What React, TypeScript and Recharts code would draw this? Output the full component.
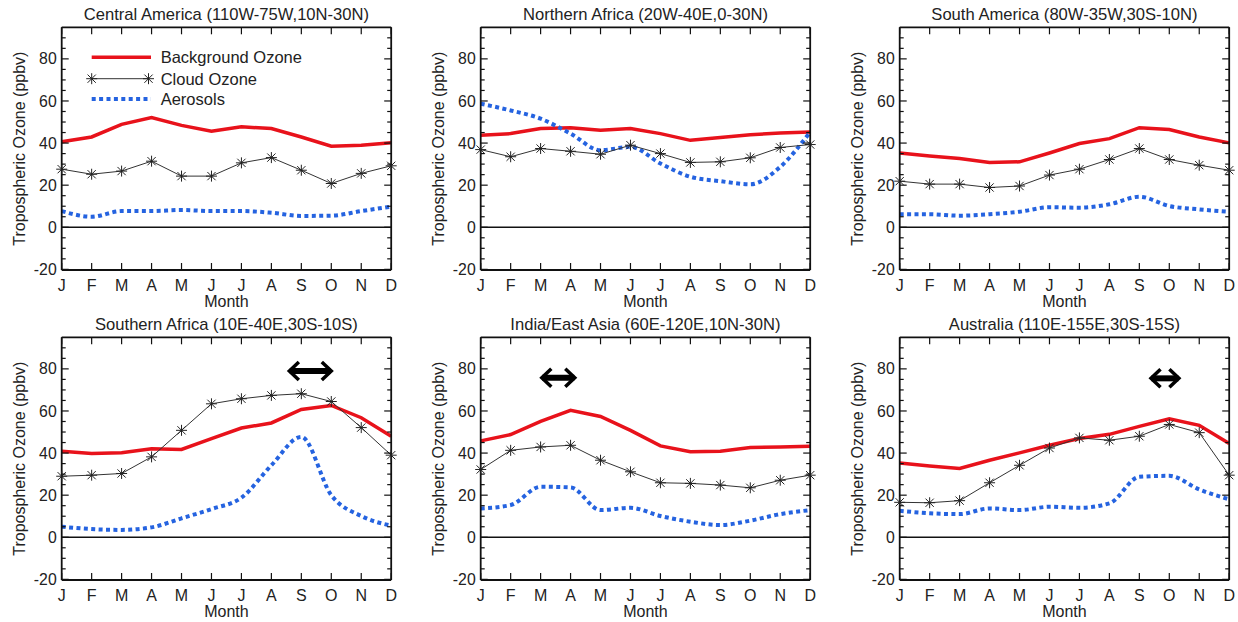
import { LineChart, Line, XAxis, YAxis, ReferenceLine, Legend } from "recharts";

const MONTHS = ["J", "F", "M", "A", "M", "J", "J", "A", "S", "O", "N", "D"];
const MONTH_IDX = [0, 1, 2, 3, 4, 5, 6, 7, 8, 9, 10, 11];
const Y_TICKS = [-20, -15, -10, -5, 0, 5, 10, 15, 20, 25, 30, 35, 40, 45, 50, 55, 60, 65, 70, 75, 80, 85, 90];

// Central America
const caBackground = [40.6, 42.9, 48.9, 52.1, 48.4, 45.6, 47.7, 46.9, 42.9, 38.5, 39.0, 40.2];
const caCloud = [27.6, 25.2, 26.7, 31.4, 24.3, 24.3, 30.6, 33.1, 27.1, 20.8, 25.6, 29.2];
const caAerosol = [7.7, 5.0, 7.7, 7.7, 8.2, 7.7, 7.7, 6.9, 5.4, 5.5, 7.7, 9.8];

// Northern Africa
const naBackground = [43.7, 44.5, 46.9, 47.3, 46.1, 46.9, 44.5, 41.3, 42.6, 44.0, 44.8, 45.3];
const naCloud = [36.9, 33.5, 37.4, 36.1, 34.7, 39.0, 35.0, 30.8, 31.1, 33.0, 37.9, 39.3];
const naAerosol = [58.7, 55.5, 51.6, 44.5, 36.6, 38.2, 30.3, 24.0, 21.9, 20.4, 28.7, 45.3];

// South America
const saBackground = [35.3, 33.9, 32.7, 30.8, 31.1, 35.3, 39.8, 42.1, 47.3, 46.4, 42.9, 40.1];
const saCloud = [21.9, 20.5, 20.5, 18.9, 19.6, 24.8, 27.6, 32.2, 37.4, 32.2, 29.5, 27.1];
const saAerosol = [6.2, 6.2, 5.5, 6.2, 7.4, 9.5, 9.3, 10.9, 14.5, 10.1, 8.5, 7.4];

// Southern Africa
const sfBackground = [40.9, 39.8, 40.2, 42.1, 41.7, 46.9, 51.9, 54.3, 60.7, 62.6, 56.8, 48.0];
const sfCloud = [29.0, 29.5, 30.3, 38.2, 50.8, 63.4, 65.8, 67.4, 68.2, 64.5, 52.1, 39.0];
const sfAerosol = [5.0, 3.9, 3.5, 4.7, 9.0, 13.4, 18.8, 34.2, 47.7, 20.0, 10.1, 5.5];

// India/East Asia
const ieBackground = [45.8, 48.8, 55.1, 60.3, 57.4, 50.8, 43.4, 40.6, 40.9, 42.6, 42.9, 43.2];
const ieCloud = [32.2, 41.3, 42.9, 43.7, 36.6, 31.1, 25.9, 25.6, 24.8, 23.5, 27.1, 29.5];
const ieAerosol = [13.7, 15.3, 24.0, 23.7, 12.9, 14.0, 10.1, 7.4, 5.8, 7.9, 11.0, 12.9];

// Australia
const auBackground = [35.3, 33.9, 32.7, 36.6, 40.1, 43.7, 46.9, 48.9, 52.7, 56.3, 53.2, 44.5];
const auCloud = [16.6, 16.4, 17.4, 25.9, 34.2, 42.4, 47.2, 46.1, 48.0, 53.6, 49.7, 29.5];
const auAerosol = [12.6, 11.4, 11.0, 13.7, 12.9, 14.5, 14.0, 16.1, 28.7, 29.2, 22.7, 18.0];

// double arrows: [fromMonth, toMonth, ozone]
const sfArrow = [7.55, 9.05, 79];
const ieArrow = [1.99, 3.19, 75.8];
const auArrow = [8.34, 9.37, 75.5];

const RED = "#e8121b";
const BLUE = "#2563e0";
const INK = "#111";
const FONT = "'Liberation Sans', Arial, Helvetica, sans-serif";

const PLOT_LEFT = 61.7;
const PLOT_TOP = 27.3;
const PLOT_W = 329.5;
const PLOT_H = 242.7;
const CHART_W = 400;
const CHART_H = 310;
// axes are 1px wide/high, so subtract that from the margins
const MARGIN = {
  top: PLOT_TOP - 1,
  left: PLOT_LEFT - 1,
  right: CHART_W - PLOT_LEFT - PLOT_W - 1,
  bottom: CHART_H - PLOT_TOP - PLOT_H - 1,
};

function buildRows(bg: number[], cloud: number[], aer: number[]) {
  return MONTH_IDX.map((m) => ({ m, bg: bg[m], cloud: cloud[m], aer: aer[m] }));
}

function Asterisk({ cx, cy, r = 5.5 }: { cx: number; cy: number; r?: number }) {
  const d = r * 0.75;
  return (
    <g stroke="#222" strokeWidth={1}>
      <line x1={cx} y1={cy - r} x2={cx} y2={cy + r} />
      <line x1={cx - r} y1={cy} x2={cx + r} y2={cy} />
      <line x1={cx - d} y1={cy - d} x2={cx + d} y2={cy + d} />
      <line x1={cx - d} y1={cy + d} x2={cx + d} y2={cy - d} />
    </g>
  );
}

const starDot = (props: any) => <Asterisk key={props.index} cx={props.cx} cy={props.cy} />;

const LeftTick = (props: any) => {
  const { x, y, payload } = props;
  const major = payload.value % 20 === 0;
  return (
    <g>
      <line x1={x} y1={y} x2={x + (major ? 7 : 4)} y2={y} stroke={INK} strokeWidth={1.2} />
      {major && (
        <text x={x - 5} y={y + 5.6} textAnchor="end" fontSize={15.8} fill="#222">
          {payload.value}
        </text>
      )}
    </g>
  );
};

const RightTick = (props: any) => {
  const { x, y, payload } = props;
  const major = payload.value % 20 === 0;
  return <line x1={x} y1={y} x2={x - (major ? 7 : 4)} y2={y} stroke={INK} strokeWidth={1.2} />;
};

const BottomTick = (props: any) => {
  const { x, y, payload } = props;
  return (
    <g>
      <line x1={x} y1={y} x2={x} y2={y - 7} stroke={INK} strokeWidth={1.2} />
      <text x={x} y={y + 20.7} textAnchor="middle" fontSize={16} fill="#222">
        {MONTHS[payload.value]}
      </text>
    </g>
  );
};

const TopTick = (props: any) => {
  const { x, y } = props;
  return <line x1={x} y1={y} x2={x} y2={y + 7} stroke={INK} strokeWidth={1.2} />;
};

const DoubleArrow = (props: any) => {
  const { x1, x2, y1 } = props;
  const a = Math.min(x1, x2);
  const b = Math.max(x1, x2);
  const hl = 11;
  const hh = 9;
  return (
    <g stroke="#000" fill="none">
      <line x1={a + 2} y1={y1} x2={b - 2} y2={y1} strokeWidth={6} />
      <polyline points={`${a + hl},${y1 - hh} ${a + 1.5},${y1} ${a + hl},${y1 + hh}`} strokeWidth={3.5} />
      <polyline points={`${b - hl},${y1 - hh} ${b - 1.5},${y1} ${b - hl},${y1 + hh}`} strokeWidth={3.5} />
    </g>
  );
};

const renderLegend = () => (
  <svg width={240} height={66} style={{ overflow: "visible" }}>
    <line x1={6.7} y1={12.3} x2={66} y2={12.3} stroke={RED} strokeWidth={3.5} />
    <text x={75.7} y={18} fontSize={16.5} fill="#222" fontFamily={FONT}>Background Ozone</text>
    <line x1={6.7} y1={33.7} x2={63.5} y2={33.7} stroke="#333" strokeWidth={1} />
    <Asterisk cx={6.7} cy={33.7} />
    <Asterisk cx={63.5} cy={33.7} />
    <text x={75.7} y={39.5} fontSize={16.5} fill="#222" fontFamily={FONT}>Cloud Ozone</text>
    <line x1={6.7} y1={54} x2={66} y2={54} stroke={BLUE} strokeWidth={4} strokeDasharray="4 3.4" />
    <text x={75.7} y={59.8} fontSize={16.5} fill="#222" fontFamily={FONT}>Aerosols</text>
  </svg>
);

type PanelProps = {
  title: string;
  bg: number[];
  cloud: number[];
  aer: number[];
  arrow?: number[];
  legend?: boolean;
};

function Panel({ title, bg, cloud, aer, arrow, legend }: PanelProps) {
  const rows = buildRows(bg, cloud, aer);
  return (
    <LineChart width={CHART_W} height={CHART_H} data={rows} margin={MARGIN} style={{ fontFamily: FONT }}>
      <XAxis
        xAxisId="b"
        dataKey="m"
        type="number"
        domain={[0, 11]}
        ticks={MONTH_IDX}
        interval={0}
        height={1}
        tickSize={0}
        tickMargin={0}
        tickLine={false}
        axisLine={{ stroke: INK, strokeWidth: 1.8 }}
        tick={BottomTick}
        label={{
          content: (p: any) => (
            <text x={p.viewBox.x + p.viewBox.width / 2} y={p.viewBox.y + 37.3} textAnchor="middle" fontSize={16} fill="#222">
              Month
            </text>
          ),
        }}
      />
      <XAxis
        xAxisId="t"
        dataKey="m"
        type="number"
        orientation="top"
        domain={[0, 11]}
        ticks={MONTH_IDX}
        interval={0}
        height={1}
        tickSize={0}
        tickMargin={0}
        tickLine={false}
        axisLine={{ stroke: INK, strokeWidth: 1.8 }}
        tick={TopTick}
        label={{
          content: (p: any) => (
            <text x={p.viewBox.x + p.viewBox.width / 2} y={p.viewBox.y + p.viewBox.height - 7} textAnchor="middle" fontSize={16.6} fill="#222">
              {title}
            </text>
          ),
        }}
      />
      <YAxis
        yAxisId="l"
        type="number"
        domain={[-20.3, 95]}
        allowDataOverflow
        ticks={Y_TICKS}
        interval={0}
        width={1}
        tickSize={0}
        tickMargin={0}
        tickLine={false}
        axisLine={{ stroke: INK, strokeWidth: 1.8 }}
        tick={LeftTick}
        label={{
          content: (p: any) => {
            const cx = p.viewBox.x + p.viewBox.width - 37;
            const cy = p.viewBox.y + p.viewBox.height / 2;
            return (
              <text x={cx} y={cy} transform={`rotate(-90 ${cx} ${cy})`} textAnchor="middle" fontSize={16} fill="#222">
                Tropospheric Ozone (ppbv)
              </text>
            );
          },
        }}
      />
      <YAxis
        yAxisId="r"
        orientation="right"
        type="number"
        domain={[-20.3, 95]}
        allowDataOverflow
        ticks={Y_TICKS}
        interval={0}
        width={1}
        tickSize={0}
        tickMargin={0}
        tickLine={false}
        axisLine={{ stroke: INK, strokeWidth: 1.8 }}
        tick={RightTick}
      />
      <ReferenceLine xAxisId="b" yAxisId="l" y={0} stroke={INK} strokeWidth={1.5} />
      <Line
        xAxisId="b"
        yAxisId="l"
        dataKey="bg"
        type="linear"
        stroke={RED}
        strokeWidth={3.5}
        dot={false}
        isAnimationActive={false}
      />
      <Line
        xAxisId="b"
        yAxisId="l"
        dataKey="aer"
        type="monotone"
        stroke={BLUE}
        strokeWidth={4}
        strokeDasharray="4 3.4"
        dot={false}
        isAnimationActive={false}
      />
      <Line
        xAxisId="b"
        yAxisId="l"
        dataKey="cloud"
        type="linear"
        stroke="#333"
        strokeWidth={1}
        dot={starDot}
        isAnimationActive={false}
      />
      {arrow && (
        <ReferenceLine
          xAxisId="b"
          yAxisId="l"
          segment={[
            { x: arrow[0], y: arrow[2] },
            { x: arrow[1], y: arrow[2] },
          ]}
          shape={DoubleArrow}
        />
      )}
      {legend && (
        <Legend
          layout="vertical"
          align="center"
          verticalAlign="middle"
          content={renderLegend}
          wrapperStyle={{ position: "absolute", left: 85, top: 45, width: 240, height: 66 }}
        />
      )}
    </LineChart>
  );
}

const COL_LEFT = [0, 418.6, 837.6];
const ROW_TOP = [0, 310];

export default function App() {
  return (
    <div style={{ position: "absolute", left: 0, top: 0, width: 1238, height: 622, background: "#fff", fontFamily: FONT }}>
      <div style={{ position: "absolute", left: COL_LEFT[0], top: ROW_TOP[0] }}>
        <Panel title="Central America (110W-75W,10N-30N)" bg={caBackground} cloud={caCloud} aer={caAerosol} legend />
      </div>
      <div style={{ position: "absolute", left: COL_LEFT[1], top: ROW_TOP[0] }}>
        <Panel title="Northern Africa (20W-40E,0-30N)" bg={naBackground} cloud={naCloud} aer={naAerosol} />
      </div>
      <div style={{ position: "absolute", left: COL_LEFT[2], top: ROW_TOP[0] }}>
        <Panel title="South America (80W-35W,30S-10N)" bg={saBackground} cloud={saCloud} aer={saAerosol} />
      </div>
      <div style={{ position: "absolute", left: COL_LEFT[0], top: ROW_TOP[1] }}>
        <Panel title="Southern Africa (10E-40E,30S-10S)" bg={sfBackground} cloud={sfCloud} aer={sfAerosol} arrow={sfArrow} />
      </div>
      <div style={{ position: "absolute", left: COL_LEFT[1], top: ROW_TOP[1] }}>
        <Panel title="India/East Asia (60E-120E,10N-30N)" bg={ieBackground} cloud={ieCloud} aer={ieAerosol} arrow={ieArrow} />
      </div>
      <div style={{ position: "absolute", left: COL_LEFT[2], top: ROW_TOP[1] }}>
        <Panel title="Australia (110E-155E,30S-15S)" bg={auBackground} cloud={auCloud} aer={auAerosol} arrow={auArrow} />
      </div>
    </div>
  );
}
